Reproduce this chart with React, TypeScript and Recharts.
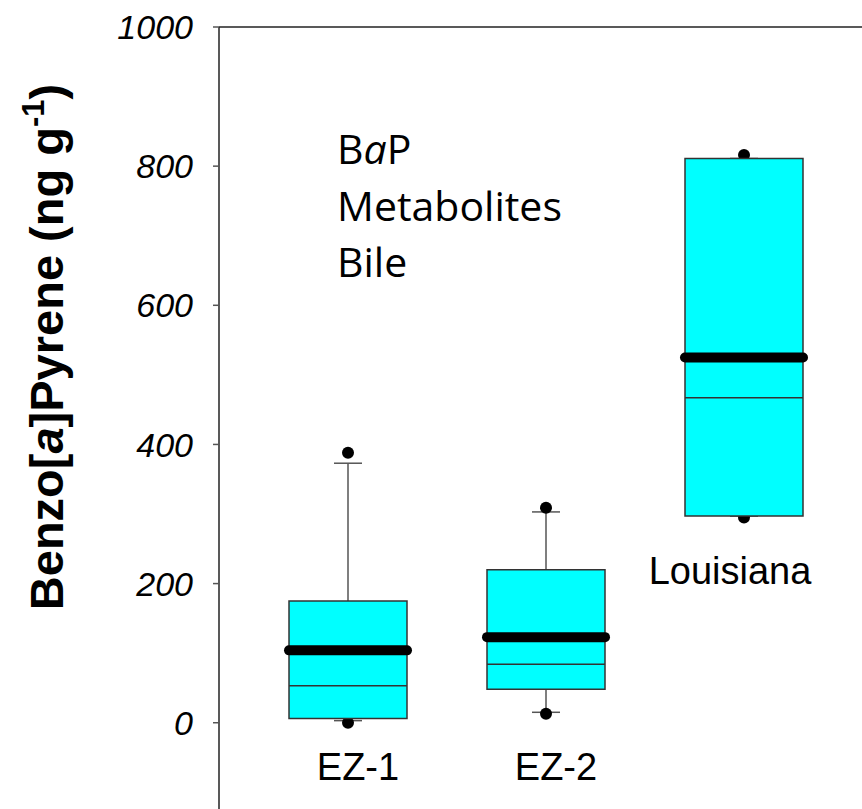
import React from "react";
import { ComposedChart, Bar, Scatter, XAxis, YAxis, ReferenceLine } from "recharts";

// site categories and box statistics (ng/g)
const sites = ["EZ-1", "EZ-2", "Louisiana"];
const q1 = [6, 48, 297];
const q3 = [175, 220, 811];
const medians = [53, 84, 467];
const means = [104, 123, 525];
const whiskerLow = [3, 15, 297];
const whiskerHigh = [373, 303, 811];
const outlierLow = [0, 13, 295];
const outlierHigh = [388, 309, 816];
// value at which each site name is written
const siteLabelAt = [-82, -82, 200];
const yTicks = [0, 200, 400, 600, 800, 1000];

const BOX_W = 118;
const CYAN = "#00FFFF";
const FONT = "Liberation Sans, Arial, sans-serif";
const labelNudge = [10, 10, -14];
const xPad = { left: 30, right: 19 };

const data = sites.map((name, i) => ({
  name,
  box: [q1[i], q3[i]],
  whisker: [whiskerLow[i], whiskerHigh[i]],
  outliers: [outlierLow[i], outlierHigh[i]],
  median: medians[i],
  mean: means[i],
  labelAt: siteLabelAt[i],
  idx: i,
}));

// range bar -> top / bottom pixel edges
const edges = (p: any) => ({
  cx: p.x + p.width / 2,
  top: Math.min(p.y, p.y + p.height),
  bottom: Math.max(p.y, p.y + p.height),
});

const Whisker = (p: any) => {
  const { cx, top, bottom } = edges(p);
  return (
    <g stroke="#555" strokeWidth={1.5}>
      <line x1={cx} x2={cx} y1={top} y2={bottom} />
      <line x1={cx - 14} x2={cx + 14} y1={top} y2={top} />
      <line x1={cx - 14} x2={cx + 14} y1={bottom} y2={bottom} />
    </g>
  );
};

const OutlierPair = (p: any) => {
  const { cx, top, bottom } = edges(p);
  return (
    <g fill="#000">
      <circle cx={cx} cy={top} r={6} />
      <circle cx={cx} cy={bottom} r={6} />
    </g>
  );
};

const MedianLine = (p: any) => (
  <line x1={p.cx - BOX_W / 2} x2={p.cx + BOX_W / 2} y1={p.cy} y2={p.cy} stroke="#333" strokeWidth={1.5} />
);

const MeanLine = (p: any) => (
  <line
    x1={p.cx - BOX_W / 2}
    x2={p.cx + BOX_W / 2}
    y1={p.cy}
    y2={p.cy}
    stroke="#000"
    strokeWidth={10}
    strokeLinecap="round"
  />
);

const SiteLabel = (p: any) => (
  <text x={p.cx + labelNudge[p.payload.idx]} y={p.cy} textAnchor="middle" fontFamily={FONT} fontSize={38} fill="#000">
    {p.payload.name}
  </text>
);

export default function App() {
  return (
    <div style={{ position: "absolute", top: 0, left: 0, background: "#fff" }}>
      <ComposedChart width={862} height={809} data={data} margin={{ top: 27, right: 0, bottom: 0, left: 0 }}>
        <XAxis xAxisId="main" dataKey="name" type="category" hide padding={xPad} />
        <XAxis xAxisId="dots" dataKey="name" type="category" hide padding={xPad} />
        <XAxis xAxisId="box" dataKey="name" type="category" hide padding={xPad} />
        <YAxis
          type="number"
          domain={[-124, 1000]}
          ticks={yTicks}
          allowDataOverflow
          width={219}
          axisLine={{ stroke: "#222", strokeWidth: 1.5 }}
          tickLine={{ stroke: "#555", strokeWidth: 1.5 }}
          tickSize={6}
          tickMargin={20}
          tick={{ fill: "#000", fontSize: 34, fontStyle: "italic", fontFamily: FONT }}
        />
        <ReferenceLine xAxisId="main" y={1000} stroke="#222" strokeWidth={1.5} />
        <Bar xAxisId="main" dataKey="whisker" barSize={BOX_W} shape={Whisker} isAnimationActive={false} />
        <Bar xAxisId="dots" dataKey="outliers" barSize={BOX_W} shape={OutlierPair} isAnimationActive={false} />
        <Bar
          xAxisId="box"
          dataKey="box"
          barSize={BOX_W}
          fill={CYAN}
          stroke="#333"
          strokeWidth={1.5}
          isAnimationActive={false}
        />
        <Scatter xAxisId="main" dataKey="median" shape={MedianLine} isAnimationActive={false} />
        <Scatter xAxisId="main" dataKey="mean" shape={MeanLine} isAnimationActive={false} />
        <Scatter xAxisId="main" dataKey="labelAt" shape={SiteLabel} isAnimationActive={false} />
        <text
          transform="translate(63, 347) rotate(-90)"
          textAnchor="middle"
          fontFamily={FONT}
          fontWeight="bold"
          fontSize={47}
          fill="#000"
        >
          Benzo[<tspan fontStyle="italic">a</tspan>]Pyrene (ng g
          <tspan fontSize={31} dy={-19}>-1</tspan>
          <tspan dy={19}>)</tspan>
        </text>
        <text fontFamily="Open Sans, sans-serif" fontSize={41} fill="#000">
          <tspan x={337} y={164}>
            B<tspan fontStyle="italic">a</tspan>P
          </tspan>
          <tspan x={337} y={221}>Metabolites</tspan>
          <tspan x={337} y={277}>Bile</tspan>
        </text>
      </ComposedChart>
    </div>
  );
}
